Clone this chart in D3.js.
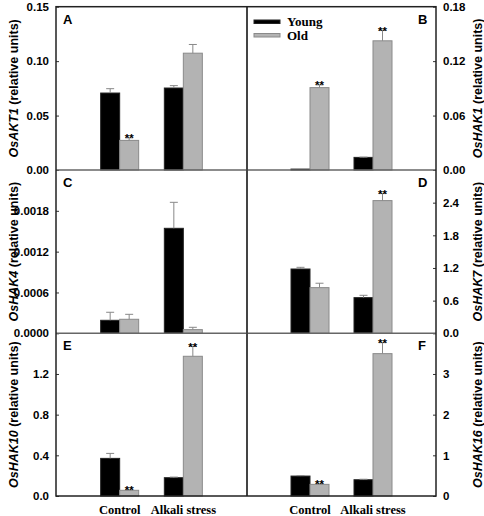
<!DOCTYPE html>
<html><head><meta charset="utf-8">
<script src="https://cdn.jsdelivr.net/npm/d3@7"></script>
<style>body{margin:0;background:#fff}svg{display:block}</style>
</head><body><svg id="c" width="484" height="516"></svg>
<script>
const categories = ["Control", "Alkali stress"];
const seriesNames = ["Young", "Old"];
const panelLetters = ["A", "B", "C", "D", "E", "F"];
const genes = ["OsAKT1", "OsHAK1", "OsHAK4", "OsHAK7", "OsHAK10", "OsHAK16"];
const youngMeans = [[0.0707, 0.0753], [0.001, 0.0139], [0.000191, 0.001543], [1.181, 0.655], [0.370, 0.180], [0.49, 0.40]];
const youngErrs  = [[0.0040, 0.0022], [0.0, 0.0003], [0.000118, 0.000382], [0.031, 0.043], [0.049, 0.006], [0.012, 0.012]];
const oldMeans   = [[0.0272, 0.1073], [0.0908, 0.1424], [0.000206, 0.000054], [0.839, 2.438], [0.056, 1.374], [0.286, 3.50]];
const oldErrs    = [[0.0023, 0.0080], [0.0030, 0.0116], [0.000073, 0.000034], [0.081, 0.129], [0.004, 0.098], [0.015, 0.27]];
const oldStars   = [[true, false], [true, true], [false, false], [false, true], [true, true], [true, true]];
const yMax = [0.15, 0.18, 0.0024, 3.0, 1.6, 4];
const tickValues = [[0, 0.05, 0.10, 0.15], [0, 0.06, 0.12, 0.18], [0, 0.0006, 0.0012, 0.0018], [0, 0.6, 1.2, 1.8, 2.4], [0, 0.4, 0.8, 1.2], [0, 1, 2, 3]];
const tickFormats = [".2f", ".2f", ".4f", ".1f", ".1f", "d"];

const svg = d3.select("#c");
const L = 56, M = 247, R = 436;
const rowsY = [6.7, 170, 333.3, 496];
const sans = "'Liberation Sans', Arial, sans-serif";
const serif = "'Liberation Serif', 'Times New Roman', serif";
const gray = "#b3b3b3";
const barW = 19;

for (let p = 0; p < 6; p++) {
  const col = p % 2, row = Math.floor(p / 2);
  const x0 = col === 0 ? L : M, x1 = col === 0 ? M : R;
  const yTop = rowsY[row], yBot = rowsY[row + 1];
  const y = d3.scaleLinear().domain([0, yMax[p]]).range([yBot, yTop]);
  const x = d3.scalePoint().domain(["", ...categories, " "]).range([x0, x1]);
  const g = svg.append("g");

  categories.forEach((c, i) => {
    const cx = x(c);
    const items = [
      {m: youngMeans[p][i], e: youngErrs[p][i], fill: "#000", stroke: "#222", xs: cx - barW, star: false},
      {m: oldMeans[p][i], e: oldErrs[p][i], fill: gray, stroke: "#8a8a8a", xs: cx, star: oldStars[p][i]}
    ];
    items.forEach(it => {
      const top = y(it.m);
      g.append("rect").attr("x", it.xs).attr("y", top).attr("width", barW).attr("height", yBot - top)
        .attr("fill", it.fill).attr("stroke", it.stroke).attr("stroke-width", 1);
      const eTop = y(it.m + it.e);
      const ex = it.xs + barW / 2;
      if (it.e > 0) {
        g.append("line").attr("x1", ex).attr("x2", ex).attr("y1", top).attr("y2", eTop).attr("stroke", "#888").attr("stroke-width", 1);
        g.append("line").attr("x1", ex - 4).attr("x2", ex + 4).attr("y1", eTop).attr("y2", eTop).attr("stroke", "#888").attr("stroke-width", 1);
      }
      if (it.star) {
        g.append("text").attr("x", ex).attr("y", eTop + 4.5).attr("text-anchor", "middle")
          .attr("font-family", sans).attr("font-weight", "bold").attr("font-size", 11.5).text("**");
      }
    });
  });

  const fmt = d3.format(tickFormats[p]);
  const axis = (col === 0 ? d3.axisLeft(y) : d3.axisRight(y))
    .tickValues(tickValues[p]).tickFormat(fmt).tickSizeInner(-3).tickSizeOuter(0).tickPadding(7);
  const ag = svg.append("g").attr("transform", `translate(${col === 0 ? L : R},0)`).call(axis);
  ag.select(".domain").remove();
  ag.selectAll("line").attr("stroke", "#333");
  ag.selectAll("text").attr("font-family", sans).attr("font-weight", "bold").attr("font-size", 11.5).attr("fill", "#000");

  svg.append("text").attr("x", col === 0 ? x0 + 7 : x1 - 18).attr("y", yTop + 17)
    .attr("font-family", sans).attr("font-weight", "bold").attr("font-size", 13).text(panelLetters[p]);

  const tx = col === 0 ? 18 : 482;
  const t = svg.append("text").attr("transform", `translate(${tx},${(yTop + yBot) / 2}) rotate(-90)`)
    .attr("text-anchor", "middle").attr("font-family", sans).attr("font-weight", "bold").attr("font-size", 12.5);
  t.append("tspan").attr("font-style", "italic").text(genes[p]);
  t.append("tspan").text(" (relative units)");
}

svg.append("line").attr("x1", L).attr("x2", R).attr("y1", rowsY[1]).attr("y2", rowsY[1]).attr("stroke", "#666").attr("stroke-width", 1.5);
svg.append("line").attr("x1", L).attr("x2", R).attr("y1", rowsY[2]).attr("y2", rowsY[2]).attr("stroke", "#666").attr("stroke-width", 1.5);
svg.append("line").attr("x1", M).attr("x2", M).attr("y1", rowsY[0]).attr("y2", rowsY[3]).attr("stroke", "#444").attr("stroke-width", 2);
svg.append("rect").attr("x", L).attr("y", rowsY[0]).attr("width", R - L).attr("height", rowsY[3] - rowsY[0])
  .attr("fill", "none").attr("stroke", "#222").attr("stroke-width", 1.5);

[[L, M], [M, R]].forEach(([a, b]) => {
  const x = d3.scalePoint().domain(["", ...categories, " "]).range([a, b]);
  categories.forEach(c => {
    svg.append("text").attr("x", x(c)).attr("y", 514).attr("text-anchor", "middle")
      .attr("font-family", serif).attr("font-weight", "bold").attr("font-size", 12.5).text(c);
  });
});

const leg = [{n: seriesNames[0], fill: "#000", stroke: "#222"}, {n: seriesNames[1], fill: gray, stroke: "#8a8a8a"}];
leg.forEach((d, i) => {
  const ly = 20 + i * 13.5;
  svg.append("rect").attr("x", 254).attr("y", ly).attr("width", 26).attr("height", 3.5)
    .attr("fill", d.fill).attr("stroke", d.stroke).attr("stroke-width", 1);
  svg.append("text").attr("x", 287).attr("y", ly + 6).attr("font-family", serif).attr("font-weight", "bold")
    .attr("font-size", 13).text(d.n);
});
</script></body></html>
